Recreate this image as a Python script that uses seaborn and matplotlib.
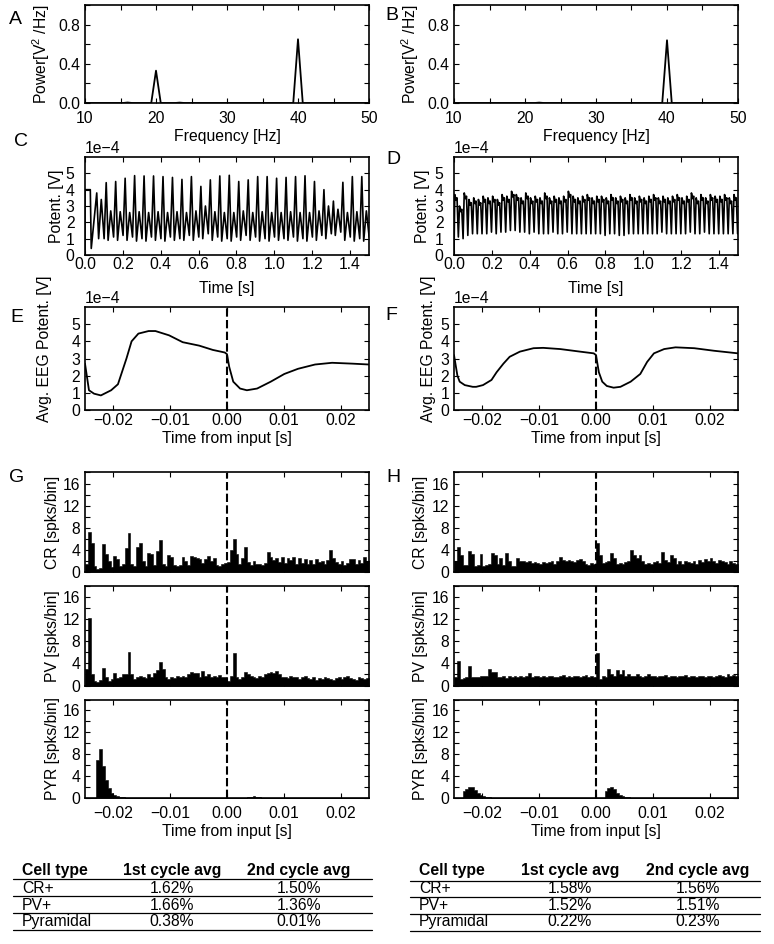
import numpy as np
import pandas as pd
import seaborn as sns
import matplotlib.pyplot as plt
import matplotlib.ticker as ticker
from matplotlib.lines import Line2D

W, H = 774, 944

# ---------------------------------------------------------------- data
# A / B : power spectra
freq_a = [10.0, 15.33, 16.0, 16.67, 19.33, 20.0, 20.67, 22.67, 23.33, 24.0, 39.33, 40.0, 40.67, 50.0]
power_a = [0.0, 0.0, 0.005, 0.0, 0.0, 0.33, 0.0, 0.0, 0.004, 0.0, 0.0, 0.65, 0.0, 0.0]
freq_b = [10.0, 21.33, 22.0, 22.67, 39.33, 40.0, 40.67, 50.0]
power_b = [0.0, 0.0, 0.004, 0.0, 0.0, 0.64, 0.0, 0.0]

# C : EEG trace with alternating big / small peaks (units of 1e-4 V)
c_head_t = [0.0, 0.0, 0.028, 0.033]
c_head_v = [0.0, 4.0, 4.0, 0.4]
c_big_t = [0.062, 0.112, 0.162, 0.212, 0.262, 0.312, 0.362, 0.412, 0.462, 0.512,
           0.562, 0.612, 0.662, 0.712, 0.762, 0.812, 0.862, 0.912, 0.962, 1.012,
           1.062, 1.112, 1.162, 1.212, 1.262, 1.312, 1.362, 1.412, 1.462]
c_big = [3.8, 4.43, 4.5, 4.7, 4.86, 4.84, 4.84, 4.8, 4.75, 4.63,
         4.8, 4.2, 4.6, 4.84, 4.88, 4.5, 4.6, 4.8, 4.8, 4.7,
         4.75, 4.8, 4.85, 4.5, 4.0, 3.3, 4.45, 4.8, 4.8]
c_low = [1.0, 0.9, 0.9, 0.9, 0.85, 0.85, 0.9, 0.85, 0.9, 0.9,
         0.9, 1.0, 0.9, 0.85, 0.85, 0.9, 0.9, 0.85, 0.85, 0.9,
         0.9, 0.85, 0.85, 0.9, 1.0, 1.2, 0.9, 0.85, 0.85]
c_small = [3.4, 2.7, 2.65, 2.6, 2.65, 2.6, 2.65, 2.6, 2.65, 2.6,
           2.7, 3.0, 2.65, 2.6, 2.6, 2.7, 2.6, 2.65, 2.6, 2.6,
           2.65, 2.6, 2.6, 2.7, 3.0, 2.8, 2.6, 2.65, 2.7]
c_mid = [1.0, 1.1, 1.2, 1.1, 1.0, 1.1, 1.0, 1.1, 1.0, 1.2,
         1.1, 1.3, 1.1, 1.0, 1.1, 1.2, 1.1, 1.0, 1.1, 1.0,
         1.1, 1.0, 1.1, 1.2, 1.3, 1.4, 1.1, 1.0, 1.1]

# D : EEG trace, 40 Hz (units of 1e-4 V)
d_t0 = [0.000, 0.025, 0.050, 0.075, 0.100, 0.125, 0.150, 0.175, 0.200, 0.225,
        0.250, 0.275, 0.300, 0.325, 0.350, 0.375, 0.400, 0.425, 0.450, 0.475,
        0.500, 0.525, 0.550, 0.575, 0.600, 0.625, 0.650, 0.675, 0.700, 0.725,
        0.750, 0.775, 0.800, 0.825, 0.850, 0.875, 0.900, 0.925, 0.950, 0.975,
        1.000, 1.025, 1.050, 1.075, 1.100, 1.125, 1.150, 1.175, 1.200, 1.225,
        1.250, 1.275, 1.300, 1.325, 1.350, 1.375, 1.400, 1.425, 1.450, 1.475]
d_peak = [3.7, 3.0, 3.8, 3.4, 3.5, 3.4, 3.6, 3.5, 3.6, 3.4,
          3.7, 3.6, 3.9, 3.7, 3.5, 3.8, 3.5, 3.6, 3.5, 3.8,
          3.5, 3.6, 3.5, 3.6, 3.9, 3.6, 3.5, 3.6, 3.7, 3.5,
          3.6, 3.6, 3.5, 3.7, 3.5, 3.6, 3.5, 3.7, 3.5, 3.6,
          3.5, 3.6, 3.7, 3.5, 3.6, 3.5, 3.6, 3.7, 3.5, 3.6,
          3.8, 3.5, 3.7, 3.5, 3.7, 3.6, 3.6, 3.7, 3.5, 3.7]
d_trough = [1.1, 1.0, 1.2, 1.3, 1.3, 1.3, 1.3, 1.4, 1.3, 1.4,
            1.4, 1.5, 1.5, 1.4, 1.4, 1.3, 1.4, 1.3, 1.3, 1.3,
            1.4, 1.3, 1.3, 1.4, 1.3, 1.3, 1.3, 1.3, 1.3, 1.3,
            1.3, 1.2, 1.3, 1.3, 1.2, 1.2, 1.3, 1.3, 1.3, 1.3,
            1.3, 1.3, 1.3, 1.4, 1.3, 1.3, 1.3, 1.3, 1.3, 1.4,
            1.3, 1.3, 1.4, 1.3, 1.3, 1.3, 1.3, 1.3, 1.3, 1.3]

# E / F : spike-triggered EEG average (units of 1e-4 V)
e_t = [-0.025, -0.0243, -0.0234, -0.0222, -0.0204, -0.0192, -0.0177, -0.0168, -0.0156,
       -0.0138, -0.0126, -0.0102, -0.0078, -0.0049, -0.0025, -0.0004, 0.0, 0.0004,
       0.0011, 0.0023, 0.0035, 0.0053, 0.0077, 0.0101, 0.0125, 0.0155, 0.0185, 0.0221, 0.025]
e_v = [2.7, 1.15, 0.95, 0.85, 1.15, 1.5, 3.0, 4.0, 4.45,
       4.6, 4.6, 4.35, 3.95, 3.75, 3.5, 3.35, 3.25, 2.5,
       1.65, 1.25, 1.15, 1.25, 1.65, 2.1, 2.4, 2.65, 2.75, 2.7, 2.65]
f_t = [-0.025, -0.0244, -0.0240, -0.0231, -0.0217, -0.0211, -0.0199, -0.0184, -0.0175,
       -0.0163, -0.0152, -0.0134, -0.0110, -0.0093, -0.0063, -0.0028, -0.0004, 0.0,
       0.0005, 0.0011, 0.0019, 0.0031, 0.0043, 0.0061, 0.0078, 0.0090, 0.0102, 0.0120,
       0.0140, 0.0173, 0.0208, 0.025]
f_v = [3.2, 2.0, 1.65, 1.45, 1.35, 1.35, 1.45, 1.75, 2.2,
       2.7, 3.1, 3.4, 3.6, 3.62, 3.55, 3.4, 3.3, 3.2,
       2.2, 1.65, 1.4, 1.3, 1.35, 1.65, 2.1, 2.8, 3.3, 3.55,
       3.65, 3.6, 3.45, 3.3]

# G / H : spike histograms, 0.5 ms bins from -25 ms to 25 ms
g_cr = [1.5, 7.2, 5.3, 1.0, 0.6, 0.8, 5.0, 3.2, 2.0, 0.9,
        2.9, 2.3, 1.0, 1.5, 4.4, 7.0, 1.5, 1.0, 4.6, 5.2,
        2.0, 1.0, 3.5, 3.3, 1.2, 3.8, 5.8, 1.5, 1.0, 3.0,
        2.8, 1.2, 1.0, 1.3, 2.8, 2.0, 1.2, 2.9, 2.7, 2.5,
        2.3, 1.6, 2.4, 2.9, 2.0, 2.6, 1.2, 1.0, 1.4, 1.6,
        1.8, 4.0, 6.0, 3.3, 1.5, 2.5, 4.5, 1.8, 1.3, 2.0,
        1.5, 1.4, 1.3, 1.6, 3.7, 2.8, 2.2, 2.6, 1.8, 2.7,
        1.7, 2.6, 2.2, 2.8, 1.5, 2.5, 1.6, 2.3, 1.4, 2.2,
        1.4, 2.3, 1.8, 2.0, 1.4, 2.2, 4.0, 2.5, 1.8, 1.5,
        2.0, 1.3, 1.6, 2.3, 2.3, 1.5, 2.2, 1.6, 2.7, 2.0]
g_pv = [3.0, 12.3, 2.0, 0.8, 0.6, 1.0, 3.2, 1.5, 0.8, 1.2,
        2.2, 1.3, 1.5, 2.0, 2.0, 6.0, 2.0, 1.2, 1.5, 1.8,
        1.5, 1.4, 2.0, 1.5, 2.2, 2.8, 4.2, 3.0, 1.5, 1.2,
        1.6, 1.4, 1.8, 1.5, 1.7, 1.6, 2.0, 2.5, 2.2, 2.3,
        1.6, 2.6, 1.8, 2.0, 1.6, 1.8, 1.5, 1.9, 1.5, 1.6,
        0.9, 1.8, 5.8, 1.5, 1.2, 1.6, 2.5, 2.0, 1.7, 1.5,
        1.4, 1.8, 1.5, 2.0, 2.2, 2.5, 2.3, 2.6, 2.0, 1.6,
        1.5, 1.3, 1.8, 1.5, 1.6, 1.2, 1.5, 1.8, 1.4, 1.2,
        1.5, 1.0, 1.3, 1.2, 1.6, 1.4, 1.2, 1.0, 1.3, 1.5,
        1.2, 1.6, 1.8, 1.3, 1.2, 1.0, 1.5, 1.3, 1.2, 1.4]
g_pyr = [0.0, 0.0, 0.0, 0.0, 7.0, 8.9, 5.8, 3.3, 1.8, 1.0,
         0.5, 0.3, 0.15, 0.1, 0.05, 0.05, 0.0, 0.0, 0.0, 0.0,
         0.0, 0.0, 0.0, 0.0, 0.0, 0.0, 0.0, 0.0, 0.0, 0.0,
         0.0, 0.0, 0.0, 0.0, 0.0, 0.0, 0.0, 0.0, 0.0, 0.0,
         0.0, 0.0, 0.0, 0.0, 0.0, 0.0, 0.0, 0.0, 0.0, 0.0,
         0.0, 0.0, 0.0, 0.0, 0.0, 0.0, 0.0, 0.15, 0.25, 0.3,
         0.25, 0.15, 0.0, 0.0, 0.0, 0.0, 0.0, 0.0, 0.0, 0.0,
         0.0, 0.0, 0.0, 0.0, 0.0, 0.0, 0.0, 0.0, 0.0, 0.0,
         0.0, 0.0, 0.0, 0.0, 0.0, 0.0, 0.0, 0.0, 0.0, 0.0,
         0.0, 0.0, 0.0, 0.0, 0.0, 0.0, 0.0, 0.0, 0.0, 0.0]
h_cr = [2.0, 4.6, 3.0, 1.2, 1.2, 3.8, 3.3, 1.0, 1.3, 3.2,
        1.0, 1.2, 1.5, 3.4, 3.0, 1.5, 2.5, 1.2, 3.4, 2.0,
        1.0, 1.0, 2.6, 2.0, 2.0, 1.8, 2.0, 1.7, 1.8, 1.6,
        1.5, 1.8, 1.6, 1.8, 2.0, 1.5, 2.0, 2.7, 2.2, 2.0,
        2.2, 2.0, 1.8, 2.1, 2.3, 2.0, 1.5, 1.2, 1.6, 1.5,
        5.3, 3.0, 1.6, 1.8, 2.0, 3.5, 2.5, 1.5, 1.6, 1.5,
        1.8, 2.0, 4.0, 3.0, 2.5, 3.0, 2.0, 1.5, 1.6, 1.5,
        1.8, 2.0, 1.6, 3.7, 2.2, 1.8, 3.0, 2.5, 1.5, 2.0,
        1.5, 2.0, 1.8, 1.6, 2.0, 1.5, 2.2, 1.8, 2.3, 2.0,
        2.5, 2.0, 1.6, 2.2, 2.0, 1.8, 1.5, 2.0, 1.6, 1.5]
h_pv = [1.5, 4.5, 1.2, 1.3, 1.5, 3.5, 1.5, 1.6, 1.5, 1.8,
        1.7, 1.8, 3.0, 2.5, 2.5, 1.6, 1.5, 1.8, 1.4, 1.7,
        1.6, 1.8, 1.5, 1.8, 1.6, 1.8, 2.3, 1.5, 1.8, 1.7,
        1.5, 1.8, 1.6, 1.7, 1.8, 1.6, 1.5, 1.7, 1.9, 1.6,
        1.8, 1.6, 1.7, 1.8, 1.6, 1.8, 1.9, 1.6, 1.8, 1.5,
        5.8, 1.2, 1.8, 1.6, 3.0, 2.0, 1.8, 2.8, 2.0, 2.8,
        1.8, 2.0, 1.7, 1.8, 2.0, 1.8, 1.6, 1.8, 2.0, 1.7,
        1.8, 1.6, 1.7, 1.8, 1.9, 1.6, 1.8, 1.7, 1.6, 1.8,
        1.7, 1.9, 1.6, 1.8, 1.7, 1.6, 1.8, 1.7, 1.6, 1.8,
        1.7, 1.6, 1.8, 1.9, 1.7, 1.6, 2.0, 1.8, 1.9, 1.7]
h_pyr = [0.0, 0.0, 0.0, 1.2, 1.6, 2.0, 2.0, 1.5, 0.9, 0.5,
         0.3, 0.15, 0.1, 0.05, 0.05, 0.05, 0.05, 0.05, 0.05, 0.05,
         0.05, 0.05, 0.05, 0.05, 0.05, 0.05, 0.05, 0.05, 0.05, 0.05,
         0.05, 0.05, 0.05, 0.05, 0.05, 0.05, 0.05, 0.05, 0.05, 0.05,
         0.05, 0.05, 0.05, 0.05, 0.05, 0.05, 0.05, 0.05, 0.05, 0.05,
         0.0, 0.0, 0.0, 1.3, 1.9, 2.1, 1.6, 1.0, 0.6, 0.3,
         0.15, 0.1, 0.05, 0.05, 0.05, 0.05, 0.05, 0.05, 0.05, 0.05,
         0.05, 0.05, 0.05, 0.05, 0.05, 0.05, 0.05, 0.05, 0.05, 0.05,
         0.05, 0.05, 0.05, 0.05, 0.05, 0.05, 0.05, 0.05, 0.05, 0.05,
         0.05, 0.05, 0.05, 0.05, 0.05, 0.05, 0.05, 0.05, 0.05, 0.05]

# tables
table_header = ['Cell type', '1st cycle avg', '2nd cycle avg']
table_cells = ['CR+', 'PV+', 'Pyramidal']
g_first = ['1.62%', '1.66%', '0.38%']
g_second = ['1.50%', '1.36%', '0.01%']
h_first = ['1.58%', '1.52%', '0.22%']
h_second = ['1.56%', '1.51%', '0.23%']

# ---------------------------------------------------------------- style
sns.set_theme(context='paper', style='ticks', rc={
    'xtick.direction': 'in', 'ytick.direction': 'in',
    'xtick.top': True, 'ytick.right': True,
    'axes.linewidth': 1.2, 'axes.edgecolor': 'black',
    'xtick.major.size': 3.5, 'ytick.major.size': 3.5,
    'xtick.minor.size': 3.5, 'ytick.minor.size': 3.5,
    'xtick.major.width': 0.8, 'ytick.major.width': 0.8,
    'xtick.minor.width': 0.8, 'ytick.minor.width': 0.8,
    'xtick.color': 'black', 'ytick.color': 'black',
    'text.color': 'black', 'axes.labelcolor': 'black',
    'font.size': 11.3, 'axes.labelsize': 11.3,
    'xtick.labelsize': 11.3, 'ytick.labelsize': 11.3,
})
plt.rcParams['font.family'] = ['Liberation Sans', 'DejaVu Sans']
plt.rcParams['mathtext.fontset'] = 'custom'
plt.rcParams['mathtext.rm'] = 'Liberation Sans'

fig = plt.figure(figsize=(W / 100, H / 100), dpi=100)

cols = [(85, 369), (454, 738)]
volt_ticks = [0.0, 1e-4, 2e-4, 3e-4, 4e-4, 5e-4]


def px_axes(x0, x1, y0, y1):
    ax = fig.add_axes([x0 / W, 1 - y1 / H, (x1 - x0) / W, (y1 - y0) / H])
    ax._px = (x0, x1, y0, y1)
    return ax


def label_at(ax, xlabel=None, xl_y=None, ylabel=None, yl_x=None, yl_y=None):
    x0, x1, y0, y1 = ax._px
    if xlabel is not None:
        ax.set_xlabel(xlabel)
        ax.xaxis.set_label_coords(0.5, (y1 - xl_y) / (y1 - y0))
        ax.xaxis.label.set_va('center')
    if ylabel is not None:
        ax.set_ylabel(ylabel)
        yc = (y0 + y1) / 2 if yl_y is None else yl_y
        ax.yaxis.set_label_coords((yl_x - x0) / (x1 - x0), (y1 - yc) / (y1 - y0))
        ax.yaxis.label.set_va('center')
    else:
        ax.set_ylabel('')


def panel_letter(s, x, y):
    fig.text(x / W, 1 - y / H, s, fontsize=14, ha='center', va='center')


# ---------------------------------------------------------------- A / B
for (x0, x1), fr, pw, ylx in zip(cols, [freq_a, freq_b], [power_a, power_b], [41, 410]):
    ax = px_axes(x0, x1, 5, 103)
    sns.lineplot(x=fr, y=pw, ax=ax, color='black', lw=1.3, sort=False, estimator=None)
    ax.set_xlim(10, 50)
    ax.set_ylim(0, 1.0)
    ax.xaxis.set_major_locator(ticker.MultipleLocator(10))
    ax.xaxis.set_minor_locator(ticker.MultipleLocator(5))
    ax.yaxis.set_major_locator(ticker.MultipleLocator(0.4))
    ax.yaxis.set_minor_locator(ticker.MultipleLocator(0.2))
    ax.tick_params(axis='x', which='major', pad=5.5)
    label_at(ax, 'Frequency [Hz]', 136.7, 'Power[V$^{2}$ /Hz]', ylx)

# ---------------------------------------------------------------- C / D
c_time, c_volt = list(c_head_t), list(c_head_v)
for tb, big, low, small, mid in zip(c_big_t, c_big, c_low, c_small, c_mid):
    c_time += [tb, tb + 0.010, tb + 0.024, tb + 0.039]
    c_volt += [big, low, small, mid]
d_time, d_volt = [0.0], [0.0]
for t0, pk, tr in zip(d_t0, d_peak, d_trough):
    d_time += [t0 + 0.004, t0 + 0.011, t0 + 0.016, t0 + 0.023]
    d_volt += [pk, pk - 0.35, pk - 0.2, tr]

for (x0, x1), tt, vv, ylx in zip(cols, [c_time, d_time], [c_volt, d_volt], [56, 423]):
    ax = px_axes(x0, x1, 157, 255)
    sns.lineplot(x=tt, y=np.array(vv) * 1e-4, ax=ax, color='black', lw=1.2,
                 sort=False, estimator=None)
    ax.set_xlim(0, 1.5)
    ax.set_ylim(0, 6e-4)
    ax.xaxis.set_major_locator(ticker.MultipleLocator(0.2))
    ax.yaxis.set_major_locator(ticker.FixedLocator(volt_ticks))
    ax.ticklabel_format(axis='y', style='sci', scilimits=(0, 0))
    ax.tick_params(axis='x', which='major', pad=1.5)
    ax.tick_params(axis='y', which='major', pad=7.5)
    label_at(ax, 'Time [s]', 288.3, 'Potent. [V]', ylx)

# ---------------------------------------------------------------- E / F
for (x0, x1), tt, vv, ylx in zip(cols, [e_t, f_t], [e_v, f_v], [45, 428.5]):
    ax = px_axes(x0, x1, 307, 410)
    sns.lineplot(x=tt, y=np.array(vv) * 1e-4, ax=ax, color='black', lw=1.3,
                 sort=False, estimator=None)
    ax.axvline(0, color='black', lw=1.5, ls=(0, (4, 1.6)))
    ax.set_xlim(-0.025, 0.025)
    ax.set_ylim(0, 6e-4)
    ax.xaxis.set_major_locator(ticker.MultipleLocator(0.01))
    ax.yaxis.set_major_locator(ticker.FixedLocator(volt_ticks))
    ax.ticklabel_format(axis='y', style='sci', scilimits=(0, 0))
    ax.tick_params(axis='x', which='major', pad=2.0)
    label_at(ax, 'Time from input [s]', 438.3, 'Avg. EEG Potent. [V]', ylx, yl_y=349)

# ---------------------------------------------------------------- G / H
edges = np.linspace(-0.025, 0.025, 101)
centers = edges[:-1] + 0.00025
rows = [(472.5, 572, 'CR [spks/bin]'), (586, 685.5, 'PV [spks/bin]'), (699.5, 798, 'PYR [spks/bin]')]
for (x0, x1), hists, ylx in zip(cols, [[g_cr, g_pv, g_pyr], [h_cr, h_pv, h_pyr]], [52, 420]):
    for (y0, y1, lab), counts in zip(rows, hists):
        ax = px_axes(x0, x1, y0, y1)
        hist_df = pd.DataFrame({'t': centers, 'n': counts})
        sns.histplot(data=hist_df, x='t', weights='n', bins=edges.tolist(), element='step',
                     fill=True, color='black', alpha=1, linewidth=0.4, ax=ax)
        ax.axvline(0, color='black', lw=1.5, ls=(0, (4, 1.6)))
        ax.set_xlim(-0.025, 0.025)
        ax.set_ylim(0, 18)
        ax.xaxis.set_major_locator(ticker.MultipleLocator(0.01))
        ax.yaxis.set_major_locator(ticker.MultipleLocator(4))
        ax.yaxis.set_minor_locator(ticker.MultipleLocator(2))
        ax.tick_params(axis='x', which='major', pad=5.8)
        if lab.startswith('PYR'):
            label_at(ax, 'Time from input [s]', 831.7, lab, ylx)
        else:
            ax.tick_params(axis='x', labelbottom=False)
            ax.set_xlabel('')
            label_at(ax, None, None, lab, ylx)

# ---------------------------------------------------------------- tables
head_base = 875.3
row_base = [893.0, 909.7, 926.4]
tables = [((13, 372), (22, 172, 299), g_first, g_second, [879.3, 896.0, 912.7, 930.0]),
          ((410, 760), (419, 570, 698), h_first, h_second, [880.5, 897.0, 913.5, 930.5])]
for (lx0, lx1), (cx0, cx1, cx2), first, second, line_y in tables:
    for txt, cx, ha in zip(table_header, (cx0, cx1, cx2), ('left', 'center', 'center')):
        fig.text(cx / W, 1 - head_base / H, txt, ha=ha, va='baseline',
                 fontsize=11.3, fontweight='bold')
    for yy, name, a, b in zip(row_base, table_cells, first, second):
        fig.text(cx0 / W, 1 - yy / H, name, ha='left', va='baseline', fontsize=11.3)
        fig.text(cx1 / W, 1 - yy / H, a, ha='center', va='baseline', fontsize=11.3)
        fig.text(cx2 / W, 1 - yy / H, b, ha='center', va='baseline', fontsize=11.3)
    for ly in line_y:
        fig.add_artist(Line2D([lx0 / W, lx1 / W], [1 - ly / H, 1 - ly / H],
                              color='black', lw=0.9))

# ---------------------------------------------------------------- letters
for s, x, y in [('A', 15, 20), ('B', 392, 16), ('C', 21, 142), ('D', 393, 160),
                ('E', 17, 318), ('F', 391, 316), ('G', 17, 477), ('H', 393, 477)]:
    panel_letter(s, x, y)

fig.savefig('out.png', dpi=100)
